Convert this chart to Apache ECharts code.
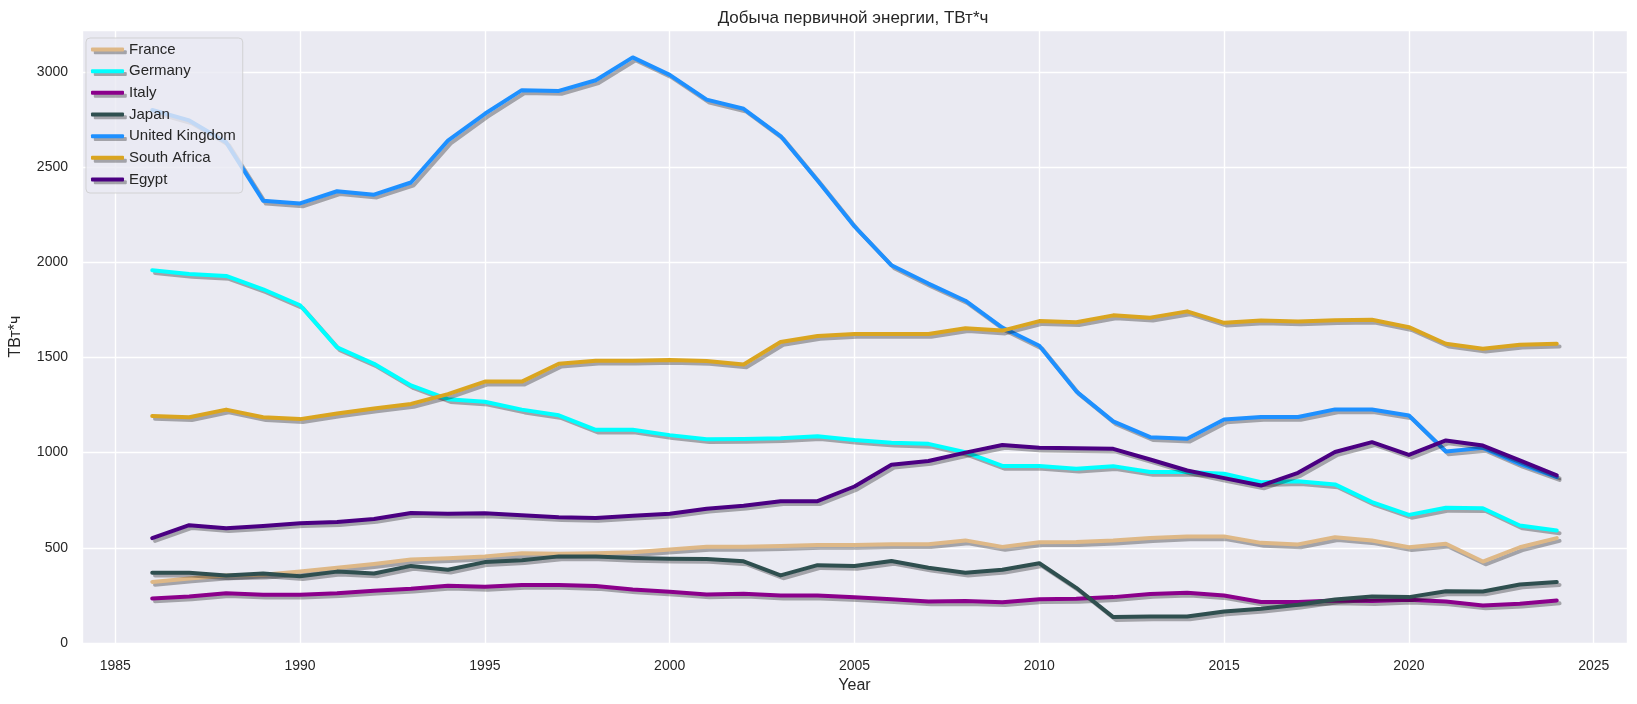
<!DOCTYPE html>
<html>
<head>
<meta charset="utf-8">
<script src="https://cdn.jsdelivr.net/npm/echarts@6/dist/echarts.min.js"></script>
<style>
html,body{margin:0;padding:0;background:#fff;}
#chart{width:1637px;height:704px;}
</style>
</head>
<body>
<div id="chart"></div>
<script>
const years = [1986,1987,1988,1989,1990,1991,1992,1993,1994,1995,1996,1997,1998,1999,2000,2001,2002,2003,2004,2005,2006,2007,2008,2009,2010,2011,2012,2013,2014,2015,2016,2017,2018,2019,2020,2021,2022,2023,2024];

const france = [321,339,355,359,375,395,415,439,445,455,471,469,471,477,491,505,505,509,515,515,519,519,539,505,529,530,538,551,560,560,526,518,556,538,503,521,428,503,551];
const germany = [1958,1938,1928,1858,1774,1553,1467,1353,1281,1267,1226,1196,1120,1120,1092,1070,1072,1076,1086,1066,1052,1046,1002,930,930,915,929,898,898,889,845,850,833,740,673,710,708,617,591];
const italy = [234,244,261,254,254,261,275,285,301,295,305,305,299,281,269,255,259,249,249,240,230,218,220,214,230,232,241,258,264,250,215,215,223,220,227,218,197,206,223];
const japan = [369,369,355,365,351,375,365,405,385,425,435,455,455,447,443,441,429,355,409,405,431,395,369,385,419,290,136,139,139,166,180,201,229,244,241,272,271,307,320];
const unitedKingdom = [2800,2745,2630,2323,2309,2373,2355,2419,2639,2780,2904,2900,2956,3076,2984,2854,2806,2663,2429,2188,1984,1888,1798,1657,1561,1322,1164,1081,1073,1174,1187,1187,1227,1227,1195,1006,1025,941,871];
const southAfrica = [1192,1186,1226,1186,1176,1206,1232,1256,1307,1373,1373,1467,1483,1483,1487,1481,1463,1581,1613,1623,1623,1623,1653,1641,1691,1685,1721,1709,1742,1682,1694,1689,1696,1698,1659,1572,1546,1567,1572];
const egypt = [551,619,603,615,629,635,651,683,679,681,671,661,657,669,679,705,721,745,745,822,936,956,1000,1040,1026,1023,1020,964,906,866,827,894,1003,1055,988,1064,1037,959,880];

const seriesNames = ['France','Germany','Italy','Japan','United Kingdom','South Africa','Egypt'];
const seriesValues = [france, germany, italy, japan, unitedKingdom, southAfrica, egypt];
const seriesColors = ['#DEB887','#00FFFF','#8B008B','#2F4F4F','#1E90FF','#DAA520','#4B0082'];

const titleText = 'Добыча первичной энергии, ТВт*ч';
const xName = 'Year';
const yName = 'ТВт*ч';

const textColor = '#262626';
const fontFam = 'Liberation Sans, Arial, sans-serif';
const chart = echarts.init(document.getElementById('chart'), null, {renderer: 'canvas'});

const series = seriesNames.map((name, i) => ({
  name: name,
  type: 'line',
  data: years.map((y, j) => [y, seriesValues[i][j]]),
  showSymbol: false,
  symbol: 'none',
  color: seriesColors[i],
  lineStyle: {
    width: 4,
    color: seriesColors[i],
    cap: 'round',
    join: 'round',
    shadowColor: 'rgba(0,0,0,0.3)',
    shadowBlur: 0.5,
    shadowOffsetX: 2.8,
    shadowOffsetY: 2.8
  },
  emphasis: {disabled: true},
  z: 2
}));

chart.setOption({
  animation: false,
  backgroundColor: '#ffffff',
  title: {
    text: titleText,
    left: 853,
    top: 10,
    padding: 0,
    textAlign: 'center',
    textStyle: {
      fontFamily: fontFam,
      fontSize: 17,
      fontWeight: 'normal',
      color: textColor
    }
  },
  legend: {
    orient: 'vertical',
    left: 86,
    top: 38,
    padding: [3, 7, 5, 5],
    itemGap: 4.67,
    itemWidth: 33,
    itemHeight: 4,
    itemTextGap: 12,
    icon: 'roundRect',
    backgroundColor: 'rgba(234,234,242,0.8)',
    borderColor: 'rgba(204,204,204,0.8)',
    borderWidth: 1,
    borderRadius: 4,
    z: 10,
    data: seriesNames,
    itemStyle: {
      shadowColor: 'rgba(0,0,0,0.3)',
      shadowBlur: 0.5,
      shadowOffsetX: 2.8,
      shadowOffsetY: 2.8
    },
    textStyle: {
      fontFamily: fontFam,
      fontSize: 15,
      lineHeight: 17,
      color: textColor
    }
  },
  grid: {
    left: 79,
    right: 10,
    top: 30,
    bottom: 61,
    show: true,
    backgroundColor: '#EAEAF2',
    borderWidth: 0,
    containLabel: false
  },
  xAxis: {
    type: 'value',
    min: 1984.1,
    max: 2025.9,
    minInterval: 5,
    maxInterval: 5,
    name: xName,
    nameLocation: 'middle',
    nameGap: 33,
    nameTextStyle: {
      fontFamily: fontFam,
      fontSize: 16,
      color: textColor
    },
    axisLine: {show: false},
    axisTick: {show: false},
    axisLabel: {
      margin: 16,
      fontFamily: fontFam,
      fontSize: 14,
      color: textColor,
      formatter: function (v) {
        return (Math.abs(v - Math.round(v)) < 1e-6 && Math.round(v) % 5 === 0) ? String(Math.round(v)) : '';
      }
    },
    splitLine: {show: true, lineStyle: {color: '#ffffff', width: 1.4}}
  },
  yAxis: {
    type: 'value',
    min: 0,
    max: 3220,
    minInterval: 500,
    maxInterval: 500,
    name: yName,
    nameLocation: 'middle',
    nameGap: 58,
    nameRotate: 90,
    nameTextStyle: {
      fontFamily: fontFam,
      fontSize: 16,
      color: textColor
    },
    axisLine: {show: false},
    axisTick: {show: false},
    axisLabel: {
      margin: 14,
      fontFamily: fontFam,
      fontSize: 14,
      color: textColor,
      formatter: function (v) {
        return (Math.round(v) % 500 === 0) ? String(Math.round(v)) : '';
      }
    },
    splitLine: {show: true, lineStyle: {color: '#ffffff', width: 1.4}}
  },
  series: series
});
</script>
</body>
</html>
